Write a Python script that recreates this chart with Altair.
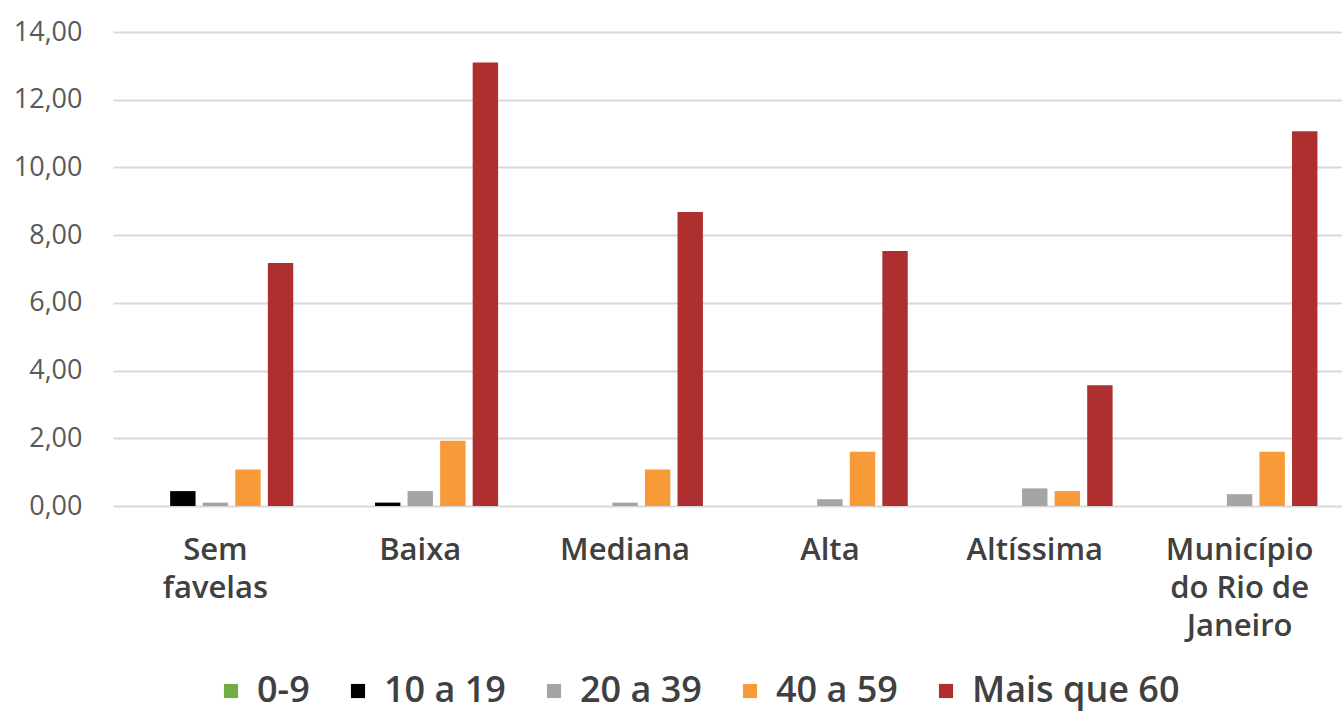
import altair as alt
import pandas as pd

# Categories (favela density) and age groups
categorias = ["Sem favelas", "Baixa", "Mediana", "Alta", "Altíssima", "Município do Rio de Janeiro"]
rotulos = ["Sem|favelas", "Baixa", "Mediana", "Alta", "Altíssima", "Município|do Rio de|Janeiro"]
faixas = ["0-9", "10 a 19", "20 a 39", "40 a 59", "Mais que 60"]
cores = ["#70ad47", "#000000", "#a5a5a5", "#f99a38", "#ad2f2f"]

# Values per age group, one entry per category
v_0_9 = [0.0, 0.0, 0.0, 0.0, 0.0, 0.0]
v_10_19 = [0.44, 0.10, 0.0, 0.0, 0.0, 0.0]
v_20_39 = [0.10, 0.44, 0.10, 0.20, 0.52, 0.35]
v_40_59 = [1.08, 1.93, 1.08, 1.60, 0.44, 1.60]
v_60 = [7.18, 13.10, 8.68, 7.53, 3.57, 11.07]

series = [v_0_9, v_10_19, v_20_39, v_40_59, v_60]
rows = []
for faixa, valores in zip(faixas, series):
    for rot, v in zip(rotulos, valores):
        rows.append({"categoria": rot, "faixa": faixa, "valor": v})
df = pd.DataFrame(rows)

chart = (
    alt.Chart(df)
    .mark_bar()
    .encode(
        x=alt.X(
            "categoria:N",
            sort=rotulos,
            scale=alt.Scale(paddingInner=0.24, paddingOuter=0.12),
            axis=alt.Axis(
                title=None,
                labelAngle=0,
                labelExpr="split(datum.label, '|')",
                labelFont="Open Sans",
                labelFontSize=31,
                labelFontWeight=600,
                labelColor="#404040",
                labelLineHeight=38,
                labelPadding=29,
                labelBaseline="top",
                labelLimit=400,
                domain=False,
                ticks=False,
            ),
        ),
        xOffset=alt.XOffset("faixa:N", sort=faixas, scale=alt.Scale(paddingInner=0.22)),
        y=alt.Y(
            "valor:Q",
            scale=alt.Scale(domain=[0, 14], nice=False),
            axis=alt.Axis(
                title=None,
                values=[0, 2, 4, 6, 8, 10, 12, 14],
                labelExpr="replace(format(datum.value, '.2f'), '.', ',')",
                labelFont="Open Sans",
                labelFontSize=27,
                labelColor="#595959",
                labelPadding=31,
                domain=False,
                ticks=False,
                gridColor="#d9d9d9",
                gridWidth=2,
            ),
        ),
        color=alt.Color(
            "faixa:N",
            sort=faixas,
            scale=alt.Scale(domain=faixas, range=cores),
            legend=alt.Legend(
                title=None,
                orient="none",
                direction="horizontal",
                legendX=100,
                legendY=641,
                symbolType="square",
                symbolSize=200,
                symbolStrokeWidth=0,
                labelFont="Open Sans",
                labelFontSize=36,
                labelFontWeight=600,
                labelColor="#404040",
                labelOffset=8,
                labelLimit=400,
                columnPadding=30,
            ),
        ),
    )
    .properties(width=1229, height=474, padding={"left": 113, "top": 32, "right": 0, "bottom": 216})
    .configure(autosize=alt.AutoSizeParams(type="none"))
    .configure_view(stroke=None)
)

chart.save("out.html", embed_options={"renderer": "svg", "actions": False})
